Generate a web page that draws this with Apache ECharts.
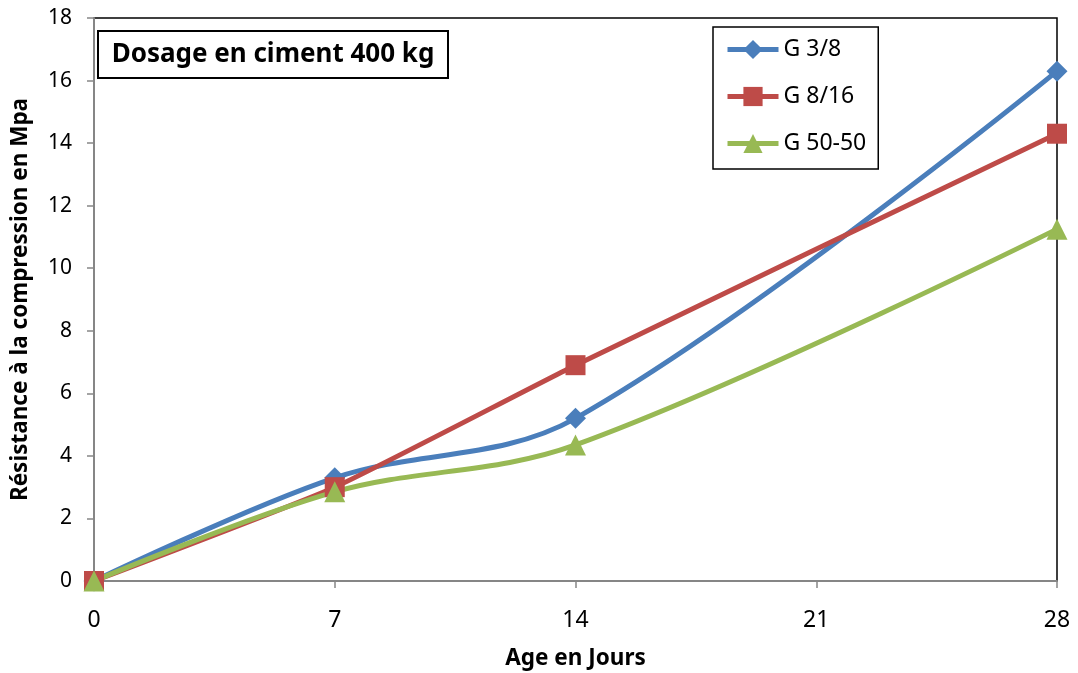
<!DOCTYPE html>
<html>
<head>
<meta charset="utf-8">
<script src="https://cdn.jsdelivr.net/npm/echarts@6/dist/echarts.min.js"></script>
<style>
  html, body { margin: 0; padding: 0; background: #fff; }
  #chart { width: 1078px; height: 673px; }
</style>
</head>
<body>
<div id="chart"></div>
<script>
// Age (days) and compressive strength (MPa) per aggregate grading
const ages = [0, 7, 14, 28];
const g38 = [0, 3.3, 5.2, 16.3];
const g816 = [0, 3.0, 6.9, 14.3];
const g5050 = [0, 2.85, 4.35, 11.25];
const xTicks = [0, 7, 14, 21, 28];
const seriesNames = ['G 3/8', 'G 8/16', 'G 50-50'];

const pairs = (ys) => ages.map((a, i) => [a, ys[i]]);

const font = '"Noto Sans", "Open Sans", sans-serif';
const narrow = '"Liberation Sans Narrow", "Noto Sans", sans-serif';

const chart = echarts.init(document.getElementById('chart'), null, { renderer: 'canvas' });

chart.setOption({
  animation: false,
  backgroundColor: '#fff',
  grid: {
    left: 94, right: 21, top: 18, bottom: 92,
    outerBoundsMode: 'none', containLabel: false,
    show: true, borderColor: '#000', borderWidth: 1.5
  },
  legend: {
    orient: 'vertical',
    left: 713, top: 27,
    padding: [11, 12, 14, 12],
    itemGap: 24,
    itemWidth: 51, itemHeight: 24,
    borderColor: '#000', borderWidth: 1.5,
    backgroundColor: '#fff',
    lineStyle: { width: 5 },
    textStyle: { fontFamily: font, fontSize: 23, lineHeight: 22, color: '#000' },
    data: seriesNames.map((n) => ({ name: n, lineStyle: { width: 5 } }))
  },
  graphic: [
    {
      type: 'group', left: 97, top: 30,
      children: [
        { type: 'rect', shape: { x: 0, y: 0, width: 350, height: 47 },
          style: { fill: '#fff', stroke: '#000', lineWidth: 2 } },
        { type: 'text', x: 175, y: 24,
          style: { text: 'Dosage en ciment 400 kg', fontFamily: font, fontWeight: 'bold',
                   fontSize: 26, fill: '#000', textAlign: 'center', textVerticalAlign: 'middle' } }
      ]
    }
  ],
  xAxis: {
    type: 'value', min: 0, max: 28, interval: 7,
    name: 'Age en Jours', nameLocation: 'middle', nameGap: 66,
    nameTextStyle: { fontFamily: font, fontWeight: 'bold', fontSize: 22.5, color: '#000' },
    axisLine: { show: true, lineStyle: { color: '#868686', width: 2 } },
    axisTick: { show: true, length: 7, lineStyle: { color: '#868686', width: 1.5 } },
    axisLabel: { fontFamily: narrow, fontSize: 23, color: '#000', margin: 28,
                 formatter: (v) => xTicks.includes(v) ? String(v) : '' },
    splitLine: { show: false }
  },
  yAxis: {
    type: 'value', min: 0, max: 18, interval: 2,
    name: 'Résistance à la compression en Mpa', nameLocation: 'middle', nameGap: 62,
    nameTextStyle: { fontFamily: font, fontWeight: 'bold', fontSize: 22.5, color: '#000' },
    axisLine: { show: true, lineStyle: { color: '#868686', width: 2 } },
    axisTick: { show: true, length: 7, lineStyle: { color: '#868686', width: 1.5 } },
    axisLabel: { fontFamily: font, fontSize: 21, color: '#000', margin: 22 },
    splitLine: { show: false }
  },
  series: [
    {
      name: seriesNames[0], type: 'line', data: pairs(g38), smooth: 0.35,
      symbol: 'diamond', symbolSize: 21,
      lineStyle: { color: '#4A7EBB', width: 5 },
      itemStyle: { color: '#4A7EBB' }
    },
    {
      name: seriesNames[1], type: 'line', data: pairs(g816), smooth: 0.15,
      symbol: 'rect', symbolSize: 20,
      lineStyle: { color: '#BE4B48', width: 5 },
      itemStyle: { color: '#BE4B48' }
    },
    {
      name: seriesNames[2], type: 'line', data: pairs(g5050), smooth: 0.35,
      symbol: 'triangle', symbolSize: 21,
      lineStyle: { color: '#98B954', width: 5 },
      itemStyle: { color: '#98B954' }
    }
  ]
});
</script>
</body>
</html>
